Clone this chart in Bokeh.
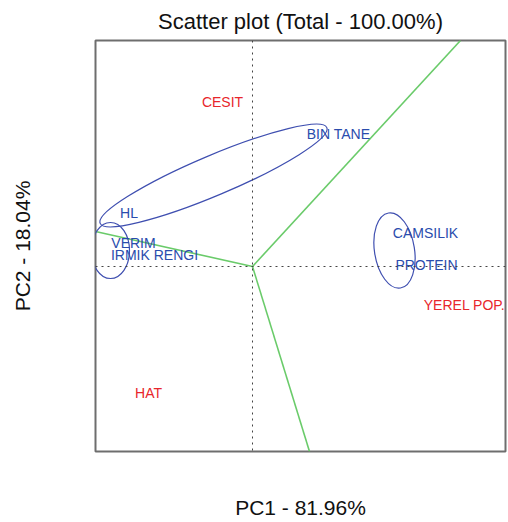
from bokeh.plotting import figure
from bokeh.models import Range1d, Span, FixedTicker, ColumnDataSource
from bokeh.core.properties import value
from bokeh.embed import file_html
from bokeh.resources import INLINE

# --- data (PC1, PC2 scores, arbitrary units) ---
red_labels = ["CESIT", "YEREL POP.", "HAT"]
red_x = [-0.30, 2.12, -1.04]
red_y = [1.65, -0.38, -1.26]

blue_labels = ["BIN TANE", "HL", "VERIM", "IRMIK RENGI", "CAMSILIK", "PROTEIN"]
blue_x = [0.86, -1.235, -1.19, -0.98, 1.73, 1.74]
blue_y = [1.33, 0.54, 0.24, 0.12, 0.34, 0.02]

# green vectors from origin
vec_x = [2.08, -1.57, 0.57]
vec_y = [2.26, 0.35, -1.85]

# cluster ellipses: centre, width, height, angle (deg)
ell_x = [-0.39, 1.42, -1.42]
ell_y = [0.91, 0.16, 0.16]
ell_w = [2.46, 0.40, 0.38]
ell_h = [0.40, 0.76, 0.56]
ell_a = [22.9, 9.0, 0.0]

FONT = "Liberation Sans"

p = figure(width=508, height=522, output_backend="svg", toolbar_location=None,
           x_range=Range1d(-1.57, 2.53), y_range=Range1d(-1.85, 2.26),
           min_border_left=95, min_border_right=3, min_border_top=40, min_border_bottom=71,
           title="Scatter plot (Total - 100.00%)")
p.frame_width = 410
p.frame_height = 411

p.title.align = "center"
p.title.vertical_align = "top"
p.title.text_font = FONT
p.title.text_font_style = "normal"
p.title.text_font_size = "22px"
p.title.text_color = "#111111"

p.xgrid.visible = False
p.ygrid.visible = False
p.outline_line_color = "#6e6e6e"
p.outline_line_width = 2

for ax in (p.xaxis[0], p.yaxis[0]):
    ax.ticker = FixedTicker(ticks=[])
    ax.axis_line_color = None
    ax.major_tick_line_color = None
    ax.minor_tick_line_color = None
    ax.major_tick_out = 0
    ax.major_label_standoff = 0
    ax.axis_label_text_font = FONT
    ax.axis_label_text_font_style = "normal"
    ax.axis_label_text_font_size = "21px"
    ax.axis_label_text_color = "#111111"
p.xaxis.axis_label = "PC1 - 81.96%"
p.yaxis.axis_label = "PC2 - 18.04%"
p.xaxis.axis_label_standoff = 44
p.yaxis.axis_label_standoff = 62

# dotted zero lines
p.add_layout(Span(location=0, dimension="height", line_color="#444444",
                  line_dash="dotted", line_width=1))
p.add_layout(Span(location=0, dimension="width", line_color="#444444",
                  line_dash="dotted", line_width=1))

# green vectors
vsrc = ColumnDataSource(dict(x0=[0] * len(vec_x), y0=[0] * len(vec_y), x1=vec_x, y1=vec_y))
p.segment(x0="x0", y0="y0", x1="x1", y1="y1", source=vsrc,
          line_color="#6acb6a", line_width=1.6)

# ellipses
esrc = ColumnDataSource(dict(x=ell_x, y=ell_y, w=ell_w, h=ell_h, a=ell_a))
p.ellipse(x="x", y="y", width="w", height="h", angle="a", angle_units="deg",
          source=esrc, fill_color=None, line_color="#3f4fb0", line_width=1.2)

# labels
p.text(x=blue_x, y=blue_y, text=blue_labels, text_font=value(FONT),
       text_font_size="14px", text_color="#2a4cad", text_align="center",
       text_baseline="middle")
p.text(x=red_x, y=red_y, text=red_labels, text_font=value(FONT),
       text_font_size="14px", text_color="#e8262b", text_align="center",
       text_baseline="middle")

open("out.html", "w").write(file_html(p, INLINE))
